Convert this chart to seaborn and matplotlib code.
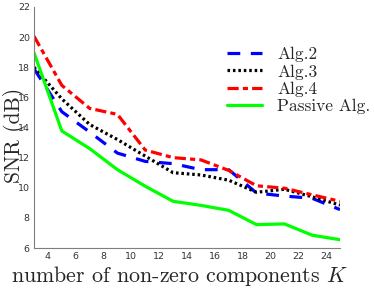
import matplotlib
matplotlib.use("Agg")
import matplotlib.pyplot as plt
import seaborn as sns
import pandas as pd

K = [3, 5, 7, 9, 11, 13, 15, 17, 19, 21, 23, 25]
alg2 = [17.9, 15.05, 13.7, 12.3, 11.75, 11.6, 11.2, 11.2, 9.65, 9.45, 9.3, 8.55]
alg3 = [18.0, 15.9, 14.2, 13.2, 12.1, 11.0, 10.85, 10.5, 9.7, 9.9, 9.4, 8.85]
alg4 = [20.06, 16.8, 15.27, 14.87, 12.5, 12.0, 11.85, 11.15, 10.13, 9.97, 9.53, 9.1]
passive = [18.96, 13.77, 12.6, 11.2, 10.1, 9.1, 8.83, 8.5, 7.55, 7.6, 6.85, 6.55]
labels = ["Alg.2", "Alg.3", "Alg.4", "Passive Alg."]
xticks = list(range(4, 25, 2))
yticks = list(range(6, 23, 2))

sns.set_style("white")
plt.rcParams["mathtext.fontset"] = "cm"

fig = plt.figure(figsize=(3.74, 2.88), dpi=100)
ax = fig.add_axes([34/374, 1 - 248/288, (340-34)/374, (248-7)/288])

styles = [
    dict(color="#0000ff", dashes=(4.0, 3.3)),
    dict(color="#000000", dashes=(0.8, 0.9)),
    dict(color="#ff0000", dashes=(3.5, 1.3, 1.6, 1.3)),
    dict(color="#00ff00", dashes=()),
]
for ys, lab, st in zip([alg2, alg3, alg4, passive], labels, styles):
    df = pd.DataFrame({"K": K, "SNR": ys})
    sns.lineplot(data=df, x="K", y="SNR", ax=ax, color=st["color"],
                 linewidth=2.3, label=lab)
    l = ax.get_lines()[-1]
    if st["dashes"]:
        l.set_dashes(st["dashes"])

ax.set_xlim(3, 25)
ax.set_ylim(6, 22)
ax.set_xticks(xticks)
ax.set_yticks(yticks)
ax.tick_params(axis="both", labelsize=6.8, colors="#333333", direction="in",
               length=3, width=0.6, pad=3)
for s in ["top", "right"]:
    ax.spines[s].set_visible(False)
for s in ["left", "bottom"]:
    ax.spines[s].set_color("#7f7f7f")
    ax.spines[s].set_linewidth(0.8)

ax.set_xlabel("number of non-zero components $K$", fontfamily="cmr10",
              fontsize=15.8)
ax.xaxis.set_label_coords(0.475, -0.066)
ax.set_ylabel("SNR (dB)", fontfamily="cmr10", fontsize=15.5)
ax.yaxis.set_label_coords(-0.025, 0.467)

leg = ax.legend(loc="upper left", bbox_to_anchor=(0.631, 0.835), frameon=False,
                prop={"family": "cmr10", "size": 12.5}, handlelength=2.0,
                handletextpad=0.9, labelspacing=0.12, borderpad=0,
                borderaxespad=0)

fig.savefig("out.png", dpi=100)
